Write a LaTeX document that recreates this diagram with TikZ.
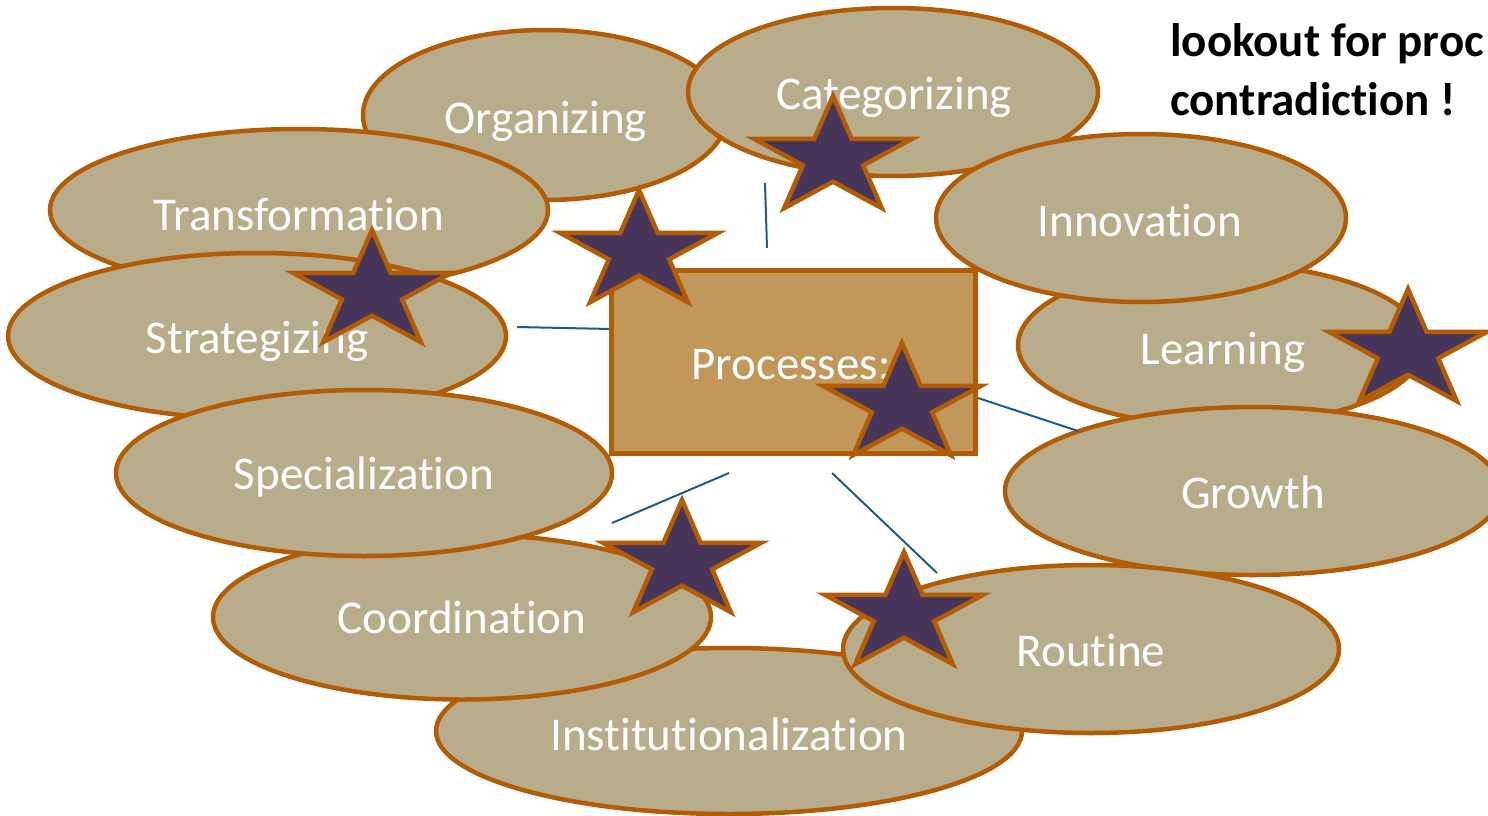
\documentclass[tikz,border=0pt]{standalone}
\usepackage{fontspec}
\setmainfont{Carlito}[RawFeature={-liga;-clig;-dlig}]
\usetikzlibrary{shapes.geometric}

\definecolor{rim}{RGB}{178,92,6}
\definecolor{blobfill}{RGB}{185,172,139}
\definecolor{boxfill}{RGB}{194,152,90}
\definecolor{starfill}{RGB}{71,54,90}
\definecolor{wire}{RGB}{31,92,134}

\tikzset{
  blob/.style={ellipse, draw=rim, fill=blobfill, line width=4.5pt, inner sep=0pt},
  lbl/.style={anchor=base, text=white, inner sep=0pt, font=\fontsize{47}{56}\selectfont},
  note/.style={anchor=base west, text=black, inner sep=0pt, font=\fontsize{47}{56}\selectfont\bfseries},
  wireline/.style={draw=wire, line width=2pt},
  starline/.style={draw=rim, fill=starfill, line width=4.5pt, line join=miter},
  pics/pstar/.style={code={
    \path[starline] (270:62) \foreach \k in {1,...,9}{ -- ({270+36*\k}:{mod(\k,2)==0 ? 62 : 23.7}) } -- cycle;
  }}
}

\begin{document}
\begin{tikzpicture}[x=1pt, y=-1pt]
\useasboundingbox (0,0) rectangle (1488,816);
\clip (0,0) rectangle (1488,816);

% process ellipses, back to front
\node[blob, minimum width=364pt, minimum height=170pt] (org) at (545,115) {};
\node[lbl] (orgT) at (546,133) {Organizing};
\node[blob, minimum width=410pt, minimum height=168pt] (cat) at (893,92) {};
\node[lbl] (catT) at (894,109) {Categorizing};
\node[blob, minimum width=406pt, minimum height=162pt] (lrn) at (1221,345) {};
\node[lbl] (lrnT) at (1223,364) {Learning};
\node[blob, minimum width=410pt, minimum height=168pt] (inn) at (1141,218) {};
\node[lbl] (innT) at (1140,236) {Innovation};
\node[blob, minimum width=496pt, minimum height=168pt] (grw) at (1253,491) {};
\node[lbl] (grwT) at (1253,508) {Growth};
\node[blob, minimum width=586pt, minimum height=166pt] (ins) at (729,731) {};
\node[lbl] (insT) at (729,750) {Institutionalization};
\node[blob, minimum width=496pt, minimum height=168pt] (rtn) at (1091,649) {};
\node[lbl] (rtnT) at (1091,666) {Routine};
\node[blob, minimum width=498pt, minimum height=165pt] (crd) at (462,617) {};
\node[lbl] (crdT) at (462,633) {Coordination};
\node[blob, minimum width=498pt, minimum height=162pt] (trf) at (299,210) {};
\node[lbl] (trfT) at (299,230) {Transformation};
\node[blob, minimum width=498pt, minimum height=166pt] (str) at (257,336) {};
\node[lbl] (strT) at (257,353) {Strategizing};
\node[blob, minimum width=496pt, minimum height=166pt] (spc) at (364,473) {};
\node[lbl] (spcT) at (364,489) {Specialization};

% short connector strokes around the centre box
\coordinate (w1a) at (765,183); \coordinate (w1b) at (767,248);
\coordinate (w2a) at (517,327); \coordinate (w2b) at (611,329);
\coordinate (w3a) at (975,397); \coordinate (w3b) at (1078,431);
\coordinate (w4a) at (612,523); \coordinate (w4b) at (729,473);
\coordinate (w5a) at (832,473); \coordinate (w5b) at (937,573);
\draw[wireline] (w1a) -- (w1b);
\draw[wireline] (w2a) -- (w2b);
\draw[wireline] (w3a) -- (w3b);
\draw[wireline] (w4a) -- (w4b);
\draw[wireline] (w5a) -- (w5b);

% centre box
\node[rectangle, draw=rim, fill=boxfill, line width=5pt, inner sep=0pt,
      minimum width=364pt, minimum height=183pt] (proc) at (793,361.5) {};
\node[lbl] (procT) at (791,379) {Processes:};

% stars
\pic[xscale=1.34] at (833,158) {pstar};
\pic[xscale=1.34] at (639,252) {pstar};
\pic[xscale=1.34] at (372,292) {pstar};
\pic[xscale=1.34] at (1408,351) {pstar};
\pic[xscale=1.34] at (902,405) {pstar};
\pic[xscale=1.34] at (682,562) {pstar};
\pic[xscale=1.34] at (904,614) {pstar};

% note in the upper right corner
\node[note] (note1) at (1170,57) {lookout for proc};
\node[note] (note2) at (1170,115) {contradiction !};
\end{tikzpicture}
\end{document}
